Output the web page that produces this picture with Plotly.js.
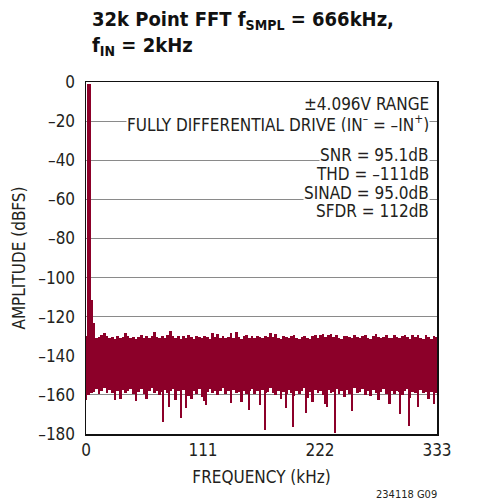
<!DOCTYPE html>
<html>
<head>
<meta charset="utf-8">
<script src="https://cdn.plot.ly/plotly-3.0.1.min.js"></script>
<style>html,body{margin:0;padding:0;background:#fff;}#chart{width:485px;height:500px;}</style>
</head>
<body>
<div id="chart"></div>
<script>
// FFT bins (kHz), 2.5 kHz spacing as drawn
const freq = [0,2.5,5,7.5,10,12.5,15,17.5,20,22.5,25,27.5,30,32.5,35,37.5,40,42.5,45,47.5,
50,52.5,55,57.5,60,62.5,65,67.5,70,72.5,75,77.5,80,82.5,85,87.5,90,92.5,95,97.5,
100,102.5,105,107.5,110,112.5,115,117.5,120,122.5,125,127.5,130,132.5,135,137.5,140,142.5,145,147.5,
150,152.5,155,157.5,160,162.5,165,167.5,170,172.5,175,177.5,180,182.5,185,187.5,190,192.5,195,197.5,
200,202.5,205,207.5,210,212.5,215,217.5,220,222.5,225,227.5,230,232.5,235,237.5,240,242.5,245,247.5,
250,252.5,255,257.5,260,262.5,265,267.5,270,272.5,275,277.5,280,282.5,285,287.5,290,292.5,295,297.5,
300,302.5,305,307.5,310,312.5,315,317.5,320,322.5,325,327.5,330,332.5];
// upper envelope of each bin (dBFS)
const noiseTop = [-130,-112,-111.5,-123,-131,-130.5,-129.5,-128.3,-130,-131,-130.5,-131.2,-130,-131,-130.4,-128.5,-129.8,-131,-130.2,-131.5,
-130.3,-129.6,-131,-130,-130.8,-129.9,-127.6,-130.4,-131.1,-130,-130.7,-129.5,-127.2,-130,-130.9,-129.8,-131.3,-130.1,-131,-129.6,
-130.5,-131.4,-129.9,-130.6,-131,-129.7,-130.3,-131.2,-128.5,-130.4,-128.8,-130.9,-129.9,-131,-130.2,-128.6,-130.8,-127.9,-130.3,-131.3,
-130,-129.4,-130.9,-130.1,-131,-129.7,-130.5,-131.1,-129.9,-130.6,-128.4,-130.2,-128.9,-130.8,-131.2,-129.8,-130.4,-131,-130.1,-129.5,
-130.9,-131.4,-130.2,-129.8,-130.7,-131.2,-130,-129.6,-130.8,-129.2,-128.8,-130.3,-129.4,-128.9,-130.6,-129.3,-130.9,-131.3,-130.1,-129.7,
-130.5,-131,-129.4,-130.3,-131.1,-130,-129.5,-130.8,-131.3,-129.9,-128.9,-130.5,-131,-130.2,-129.6,-130.7,-131.1,-129.3,-130.4,-131,
-129.8,-129.2,-130.6,-131.2,-129.5,-130.3,-129.4,-130.9,-131.3,-129.5,-130.2,-131.4,-129.7,-130.5];
// lower envelope of each bin (dBFS)
const noiseBot = [-162.5,-160,-159,-158.5,-157,-159.5,-158,-156.5,-158.8,-157.5,-159.2,-162.5,-158,-162.3,-157.6,-159,-158.2,-156.8,-159.5,-163,
-158.4,-157,-159.6,-162,-158,-156.5,-159,-157.8,-160,-158.6,-157.3,-159.1,-158,-156.9,-162.6,-158.2,-159.7,-157.4,-158.8,-160.5,
-162.3,-158,-159.3,-157.2,-161,-163.2,-158.5,-156.8,-159,-157.9,-159.8,-158.1,-156.6,-159.4,-158,-164.2,-157.5,-159.2,-158.4,-163.5,
-157.8,-159.6,-158,-156.9,-159.3,-158.2,-165,-157.6,-159,-158.3,-156.5,-158.9,-160.2,-157.8,-162,-158.4,-159.5,-157.3,-158.8,-160.8,
-157.9,-159.4,-158.1,-156.7,-161.5,-158.3,-163.5,-157.6,-159.2,-158,-160,-164.5,-157.4,-159.1,-158.6,-156.8,-159.7,-158.2,-161,-157.5,
-159.3,-158,-156.6,-159,-158.7,-157.2,-159.8,-158.1,-160.5,-157.7,-158.9,-162.5,-158.3,-157.1,-159.6,-164.5,-158,-159.4,-157.8,-158.6,
-160.2,-158.1,-156.9,-161.5,-158.7,-159.2,-165,-157.6,-159,-158.3,-162,-158.5,-164.5,-159];
// narrow deep nulls in the noise floor
const nullFreq = [73,79,90,95,113.5,155,170,189.5,196.5,208.5,229,236,252,288,298,306.5,314.5];
const nullDepth = [-174,-166,-172,-166.5,-165,-167.5,-178,-166.5,-176.5,-169.5,-166,-179.5,-168,-164.5,-170,-176,-166];
// fundamental tone
const fundFreq = [2.5];
const fundTop = [-1];
const fundBase = [-150];

const yTicks = [0,-20,-40,-60,-80,-100,-120,-140,-160,-180];
const yTickText = ['0','–20','–40','–60','–80','–100','–120','–140','–160','–180'];
const xTicks = [0,111,222,333];
const xTickText = ['0','111','222','333'];

const RED = '#8c0029';
const FONT = '"DejaVu Sans Condensed","Liberation Sans Narrow",sans-serif';
const TXT = '#231f20';

const traces = [
  {type:'bar', x:freq, base:noiseBot, y:noiseTop.map((t,i)=>t-noiseBot[i]), width:2.5,
   marker:{color:RED, line:{width:0}}, hoverinfo:'skip'},
  {type:'bar', x:nullFreq, base:nullDepth, y:nullDepth.map(d=>-152-d), width:1.9,
   marker:{color:RED, line:{width:0}}, hoverinfo:'skip'},
  {type:'bar', x:fundFreq, base:fundBase, y:fundTop.map((t,i)=>t-fundBase[i]), width:3.8,
   marker:{color:RED, line:{width:0}}, hoverinfo:'skip'}
];

function note(text, y){
  return {xref:'paper', yref:'y', x:0.98, y:y, xanchor:'right', yanchor:'middle',
    text:text, showarrow:false, bgcolor:'#ffffff', borderpad:0, height:17,
    font:{family:FONT, size:17, color:TXT}};
}

const layout = {
  width:485, height:500,
  margin:{l:86, r:48, t:82, b:66},
  paper_bgcolor:'#fff', plot_bgcolor:'#fff',
  showlegend:false, barmode:'overlay', bargap:0,
  font:{family:FONT, color:TXT},
  xaxis:{range:[0,333], tickvals:xTicks, ticktext:xTickText, ticks:'', showgrid:false,
    zeroline:false, showline:true, mirror:true, linecolor:'#111', linewidth:1.5,
    tickfont:{family:FONT, size:17, color:TXT},
    title:{text:'FREQUENCY (kHz)', font:{family:FONT, size:17, color:TXT}, standoff:12}},
  yaxis:{range:[-180,0], tickvals:yTicks, ticktext:yTickText, ticks:'', showgrid:true,
    gridcolor:'#8a8a8a', gridwidth:1, zeroline:false, showline:true, mirror:true,
    linecolor:'#111', linewidth:1.5, ticklabelstandoff:6,
    tickfont:{family:FONT, size:17, color:TXT},
    title:{text:'AMPLITUDE (dBFS)', font:{family:FONT, size:17, color:TXT}, standoff:8}},
  annotations:[
    {xref:'paper', yref:'paper', x:0.011, y:1.06, xanchor:'left', yanchor:'bottom', align:'left',
     text:'<b>32k Point FFT f<sub>SMPL</sub> = 666kHz,<br>f<sub>IN</sub> = 2kHz</b>', showarrow:false,
     font:{family:FONT, size:20, color:'#111'}},
    note('±4.096V RANGE', -11.2),
    note('FULLY DIFFERENTIAL DRIVE (IN<sup>–</sup> = –IN<sup>+</sup>)', -21.2),
    note('SNR = 95.1dB', -37.2),
    note('THD = –111dB', -46.8),
    note('SINAD = 95.0dB', -56.3),
    note('SFDR = 112dB', -65.7),
    {xref:'paper', yref:'paper', x:1.006, y:-0.173, xanchor:'right', yanchor:'middle',
     text:'234118 G09', showarrow:false, font:{family:FONT, size:11, color:TXT}}
  ]
};

Plotly.newPlot('chart', traces, layout, {displayModeBar:false, staticPlot:true});
</script>
</body>
</html>
